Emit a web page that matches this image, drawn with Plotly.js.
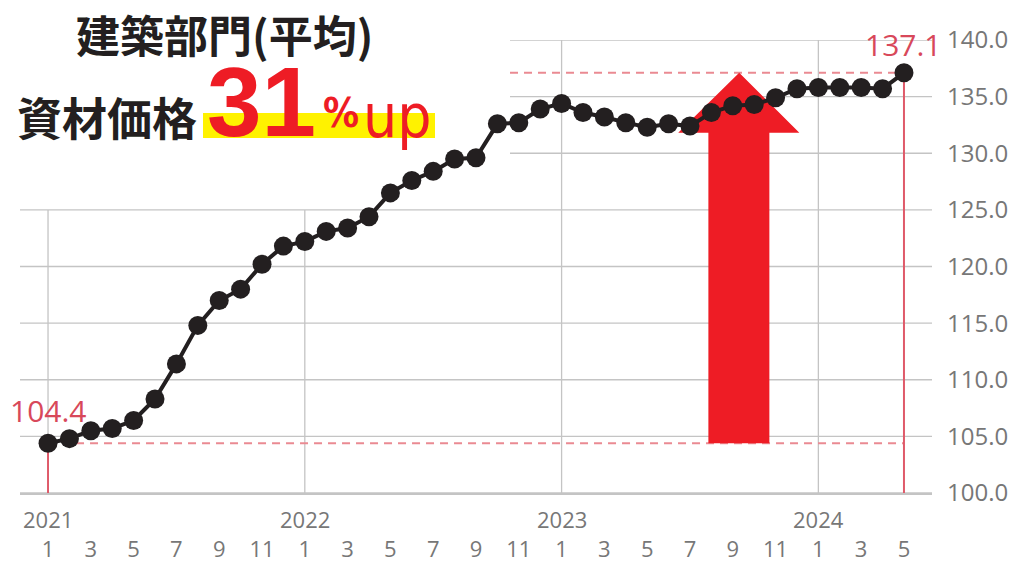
<!DOCTYPE html>
<html>
<head>
<meta charset="utf-8">
<script src="https://cdn.plot.ly/plotly-3.0.1.min.js"></script>
<style>html,body{margin:0;padding:0;background:#fff;}#chart{width:1020px;height:564px;}</style>
</head>
<body>
<div id="chart"></div>
<script>
// ---- data ----
const periods = ['2021-01','2021-02','2021-03','2021-04','2021-05','2021-06','2021-07','2021-08','2021-09','2021-10','2021-11','2021-12',
                 '2022-01','2022-02','2022-03','2022-04','2022-05','2022-06','2022-07','2022-08','2022-09','2022-10','2022-11','2022-12',
                 '2023-01','2023-02','2023-03','2023-04','2023-05','2023-06','2023-07','2023-08','2023-09','2023-10','2023-11','2023-12',
                 '2024-01','2024-02','2024-03','2024-04','2024-05'];
const priceIndex = [104.4,104.8,105.5,105.7,106.4,108.3,111.4,114.8,117.0,118.0,120.2,121.8,
                    122.2,123.1,123.4,124.4,126.5,127.6,128.4,129.5,129.6,132.6,132.7,133.9,
                    134.4,133.6,133.2,132.7,132.3,132.6,132.4,133.6,134.2,134.3,134.9,135.7,
                    135.8,135.8,135.8,135.7,137.1];
const monthTickLabels = ['1','3','5','7','9','11','1','3','5','7','9','11','1','3','5','7','9','11','1','3','5'];
const yearLabels = ['2021','2022','2023','2024'];
const yTickVals = [100,105,110,115,120,125,130,135,140];
const titleLine1 = '建築部門(平均)';
const titleLine2 = '資材価格';
const bigNumber = '31';
const unitPct = '%';
const unitUp = 'up';

// ---- derived ----
const xIdx = periods.map((p, i) => i);
const monthTickVals = xIdx.filter(i => i % 2 === 0);
const yearTickVals = xIdx.filter(i => periods[i].endsWith('-01'));
const first = 0, last = periods.length - 1;
const startVal = priceIndex[first], endVal = priceIndex[last];

// plot area geometry (pixels) for paper-coordinate helpers
const L = 20, R = 88, T = 40, B = 71, W = 1020, H = 564;
const pw = W - L - R, ph = H - T - B;
const px = v => (v - L) / pw;
const py = v => (H - B - v) / ph;

const gridColor = '#c4c4c4';
const redLine = '#df5a6a';
const redLabel = '#d8485a';
const arrowRed = '#ee1c25';
const coverTop = 125;          // grid lines above this level are hidden left of the title box
const coverRight = px(510);

const shapes = [];
// horizontal gridlines
yTickVals.forEach(v => shapes.push({type:'line', layer:'below', xref:'paper', yref:'y', x0:(v > coverTop ? coverRight : 0), x1:1, y0:v, y1:v, line:{color:gridColor, width:1.3}}));
// vertical year gridlines
yearTickVals.forEach(i => shapes.push({type:'line', layer:'below', xref:'x', yref:'y', x0:i, x1:i, y0:100, y1:(px(48 + i * 21.39) < coverRight ? coverTop : 140), line:{color:gridColor, width:1.3}}));
// dashed reference lines
shapes.push({type:'line', layer:'below', xref:'x', yref:'y', x0:first, x1:last, y0:startVal, y1:startVal, line:{color:'#ea8a92', width:2, dash:'8px,6px'}});
shapes.push({type:'line', layer:'below', xref:'paper', yref:'y', x0:coverRight, x1:px(904), y0:endVal, y1:endVal, line:{color:'#ea8a92', width:2, dash:'8px,6px'}});
// red drop lines
shapes.push({type:'line', layer:'below', xref:'x', yref:'y', x0:first, x1:first, y0:100, y1:startVal, line:{color:redLine, width:2}});
shapes.push({type:'line', layer:'below', xref:'x', yref:'y', x0:last, x1:last, y0:100, y1:endVal, line:{color:redLine, width:2}});
// big red arrow (from start level to end level)
const ax0 = 30.86, ax1 = 33.71, ahl = 29.45, ahr = 35.11, atip = 32.3, ahead = 131.8;
shapes.push({type:'path', layer:'below', xref:'x', yref:'y',
  path:`M ${ax0} ${startVal} L ${ax1} ${startVal} L ${ax1} ${ahead} L ${ahr} ${ahead} L ${atip} ${endVal} L ${ahl} ${ahead} L ${ax0} ${ahead} Z`,
  fillcolor:arrowRed, line:{width:0}});
// yellow highlight
shapes.push({type:'rect', layer:'above', xref:'paper', yref:'paper', x0:px(203), x1:px(435), y0:py(138), y1:py(113), fillcolor:'#fff200', line:{width:0}});

const tickFont = {family:'Open Sans, Noto Sans, sans-serif', size:23, color:'#777777'};
const annotations = [];
yearTickVals.forEach((i, k) => annotations.push({xref:'x', yref:'paper', x:i, y:0, yanchor:'top', yshift:-10, text:yearLabels[k], showarrow:false, font:Object.assign({}, tickFont, {size:22}), borderpad:0}));
annotations.push({xref:'x', yref:'y', x:first, y:startVal, yanchor:'bottom', yshift:10, text:startVal.toFixed(1), showarrow:false, font:{family:'Open Sans, sans-serif', size:30, color:redLabel}});
annotations.push({xref:'x', yref:'y', x:last, y:endVal, yanchor:'bottom', yshift:6, text:endVal.toFixed(1), showarrow:false, font:{family:'Open Sans, sans-serif', size:30, color:redLabel}});
const jp = 'Noto Sans CJK JP, sans-serif';
annotations.push({xref:'paper', yref:'paper', x:px(224), y:py(1), xanchor:'center', yanchor:'top', borderpad:0, text:titleLine1, showarrow:false, font:{family:jp, size:44, color:'#231f20', weight:700}});
annotations.push({xref:'paper', yref:'paper', x:px(15), y:py(117), xanchor:'left', yanchor:'middle', text:titleLine2, showarrow:false, font:{family:jp, size:45, color:'#231f20', weight:700}});
annotations.push({xref:'paper', yref:'paper', x:px(205), y:py(102), xanchor:'left', yanchor:'middle', text:bigNumber, showarrow:false, font:{family:'Liberation Sans, Arial, sans-serif', size:98, color:arrowRed, weight:700}});
annotations.push({xref:'paper', yref:'paper', x:px(321), y:py(113), xanchor:'left', yanchor:'middle', text:unitPct, showarrow:false, font:{family:'DejaVu Sans Condensed, Liberation Sans, sans-serif', size:40, color:arrowRed, weight:700}});
annotations.push({xref:'paper', yref:'paper', x:px(361), y:py(116), xanchor:'left', yanchor:'middle', text:unitUp, showarrow:false, font:{family:'DejaVu Sans Condensed, Liberation Sans, sans-serif', size:60, color:arrowRed, weight:500}});

const trace = {
  x: xIdx, y: priceIndex, type:'scatter', mode:'lines+markers',
  line:{color:'#231f20', width:4},
  marker:{color:'#231f20', size:19},
  cliponaxis:false, hoverinfo:'skip'
};

const layout = {
  width:W, height:H, margin:{l:L, r:R, t:T, b:B},
  paper_bgcolor:'#ffffff', plot_bgcolor:'#ffffff', showlegend:false,
  xaxis:{range:[-1.31, 41.31], tickmode:'array', tickvals:monthTickVals, ticktext:monthTickLabels,
         showgrid:false, zeroline:false, showline:true, linecolor:gridColor, linewidth:1.5,
         ticks:'', tickfont:Object.assign({}, tickFont, {size:22}), ticklabelstandoff:36, fixedrange:true},
  yaxis:{range:[100,140], side:'right', tickmode:'array', tickvals:yTickVals, tickformat:'.1f', showgrid:false,
         zeroline:false, showline:false, ticks:'', tickfont:Object.assign({}, tickFont, {size:24}), ticklabelstandoff:14, fixedrange:true},
  shapes: shapes, annotations: annotations
};

Plotly.newPlot('chart', [trace], layout, {staticPlot:true, displayModeBar:false});
</script>
</body>
</html>
